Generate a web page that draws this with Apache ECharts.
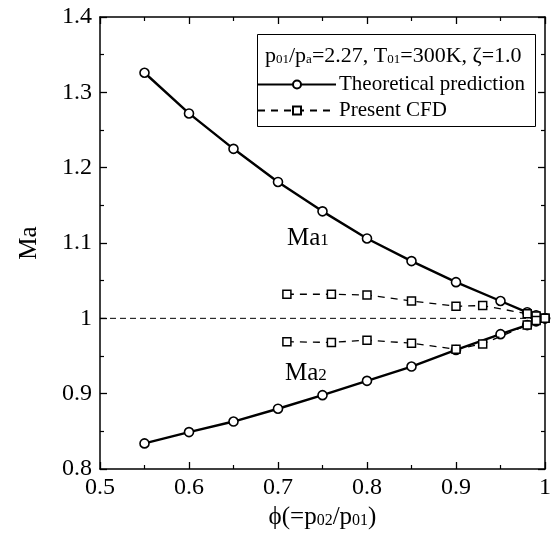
<!DOCTYPE html>
<html>
<head>
<meta charset="utf-8">
<script src="https://cdn.jsdelivr.net/npm/echarts@6/dist/echarts.min.js"></script>
<style>
html,body{margin:0;padding:0;background:#fff;}
#c{width:554px;height:542px;}
</style>
</head>
<body>
<div id="c"></div>
<script>
// ---- data ----
const phiTheory = [0.55, 0.60, 0.65, 0.70, 0.75, 0.80, 0.85, 0.90, 0.95, 0.98, 0.99, 1.00];
const ma1Theory = [1.326, 1.272, 1.225, 1.181, 1.142, 1.106, 1.076, 1.048, 1.023, 1.008, 1.004, 1.000];
const ma2Theory = [0.834, 0.849, 0.863, 0.880, 0.898, 0.917, 0.936, 0.958, 0.979, 0.991, 0.996, 1.000];
const phiCFD = [0.71, 0.76, 0.80, 0.85, 0.90, 0.93, 0.98, 0.99, 1.00];
const ma1CFD = [1.032, 1.032, 1.031, 1.023, 1.016, 1.017, 1.006, 1.003, 1.000];
const ma2CFD = [0.969, 0.968, 0.971, 0.967, 0.959, 0.966, 0.991, 0.997, 1.000];
const refPhi = [0.5, 1.0];
const refMa = [1.0, 1.0];
const xTicks = ['0.5', '0.6', '0.7', '0.8', '0.9', '1'];
const yTicks = ['0.8', '0.9', '1', '1.1', '1.2', '1.3', '1.4'];

const zip = (a, b) => a.map((v, i) => [v, b[i]]);
const FONT = '"Liberation Serif", "DejaVu Serif", serif';

const chart = echarts.init(document.getElementById('c'), null, {renderer: 'canvas'});

const tickCommon = {
  axisLine: {show: true, onZero: false, lineStyle: {color: '#000', width: 1.5}},
  axisTick: {show: true, inside: true, length: 7, lineStyle: {color: '#000', width: 1.3}},
  minorTick: {show: true, splitNumber: 2, length: 4, lineStyle: {color: '#000', width: 1.2}},
  splitLine: {show: false}
};

const option = {
  backgroundColor: '#fff',
  animation: false,
  textStyle: {fontFamily: FONT},
  grid: {left: 100, right: 6, top: 17, bottom: 73, containLabel: false},
  xAxis: [
    Object.assign({
      type: 'value', min: 0.5, max: 1.0, interval: 0.1, position: 'bottom',
      axisLabel: {color: '#000', fontSize: 24, fontFamily: FONT, margin: 7,
        formatter: v => xTicks[Math.round((v - 0.5) / 0.1)]},
      name: '{n|\u03d5(=p}{s|02}{n|/p}{s|01}{n|)}',
      nameLocation: 'middle', nameGap: 36,
      nameTextStyle: {rich: {
        n: {fontSize: 25, fontFamily: FONT, color: '#000'},
        s: {fontSize: 16, fontFamily: FONT, color: '#000', padding: [7, 0, 0, 0]}
      }}
    }, tickCommon),
    Object.assign({
      type: 'value', min: 0.5, max: 1.0, interval: 0.1, position: 'top',
      axisLabel: {show: false}
    }, tickCommon)
  ],
  yAxis: [
    Object.assign({
      type: 'value', min: 0.8, max: 1.4, interval: 0.1, position: 'left',
      axisLabel: {color: '#000', fontSize: 24, fontFamily: FONT, margin: 8,
        formatter: v => yTicks[Math.round((v - 0.8) / 0.1)]},
      name: 'Ma', nameLocation: 'middle', nameGap: 58, nameRotate: 90,
      nameTextStyle: {color: '#000', fontSize: 25, fontFamily: FONT}
    }, tickCommon),
    Object.assign({
      type: 'value', min: 0.8, max: 1.4, interval: 0.1, position: 'right',
      axisLabel: {show: false}
    }, tickCommon)
  ],
  legend: {
    show: true,
    orient: 'vertical',
    left: 257, top: 74,
    itemWidth: 78, itemHeight: 10, itemGap: 5,
    padding: [0, 0, 0, 0],
    textStyle: {color: '#000', fontSize: 21, fontFamily: FONT, padding: [0, 0, 0, -2]},
    data: ['Theoretical prediction', 'Present CFD']
  },
  graphic: [
    {type: 'rect', left: 257, top: 34, z: 1,
      shape: {width: 278, height: 92},
      style: {fill: '#fff', stroke: '#000', lineWidth: 1}},
    {type: 'text', left: 265, top: 45, z: 2,
      style: {
        text: '{n|p}{s|01}{n|/p}{s|a}{n|=2.27, T}{s|01}{n|=300K, \u03b6=1.0}',
        rich: {
          n: {fontSize: 22, fontFamily: FONT, fill: '#000'},
          s: {fontSize: 13, fontFamily: FONT, fill: '#000', padding: [7, 0, 0, 0]}
        }
      }},
    {type: 'text', left: 287, top: 226, z: 2,
      style: {
        text: '{n|Ma}{s|1}',
        rich: {
          n: {fontSize: 25, fontFamily: FONT, fill: '#000'},
          s: {fontSize: 17, fontFamily: FONT, fill: '#000', padding: [5, 0, 0, 0]}
        }
      }},
    {type: 'text', left: 285, top: 361, z: 2,
      style: {
        text: '{n|Ma}{s|2}',
        rich: {
          n: {fontSize: 25, fontFamily: FONT, fill: '#000'},
          s: {fontSize: 17, fontFamily: FONT, fill: '#000', padding: [5, 0, 0, 0]}
        }
      }}
  ],
  series: [
    {
      name: 'ref', type: 'line', xAxisIndex: 0, yAxisIndex: 0,
      data: zip(refPhi, refMa), symbol: 'none', silent: true,
      lineStyle: {color: '#000', width: 1, type: [6, 4]}, z: 1
    },
    {
      name: 'Theoretical prediction', type: 'line', xAxisIndex: 0, yAxisIndex: 0,
      data: zip(phiTheory, ma1Theory), symbol: 'circle', symbolSize: 9,
      showAllSymbol: true,
      lineStyle: {color: '#000', width: 2.4},
      itemStyle: {color: '#fff', borderColor: '#000', borderWidth: 1.6}, z: 3
    },
    {
      name: 'Theoretical prediction', type: 'line', xAxisIndex: 0, yAxisIndex: 0,
      data: zip(phiTheory, ma2Theory), symbol: 'circle', symbolSize: 9,
      showAllSymbol: true,
      lineStyle: {color: '#000', width: 2.4},
      itemStyle: {color: '#fff', borderColor: '#000', borderWidth: 1.6}, z: 3
    },
    {
      name: 'Present CFD', type: 'line', xAxisIndex: 0, yAxisIndex: 0,
      data: zip(phiCFD, ma1CFD), symbol: 'rect', symbolSize: 8,
      showAllSymbol: true,
      lineStyle: {color: '#000', width: 1.3, type: [7, 6]},
      itemStyle: {color: '#fff', borderColor: '#000', borderWidth: 1.5}, z: 4
    },
    {
      name: 'Present CFD', type: 'line', xAxisIndex: 0, yAxisIndex: 0,
      data: zip(phiCFD, ma2CFD), symbol: 'rect', symbolSize: 8,
      showAllSymbol: true,
      lineStyle: {color: '#000', width: 1.3, type: [7, 6]},
      itemStyle: {color: '#fff', borderColor: '#000', borderWidth: 1.5}, z: 4
    }
  ]
};
chart.setOption(option);
</script>
</body>
</html>
